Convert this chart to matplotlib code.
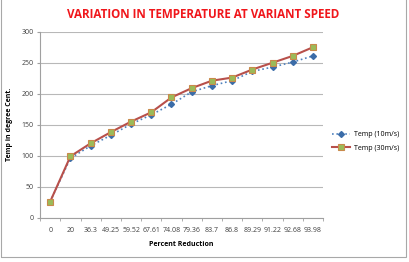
import matplotlib
matplotlib.use("Agg")
import matplotlib.pyplot as plt
from matplotlib.patches import Rectangle
import numpy as np

categories = ["0", "20", "36.3", "49.25", "59.52", "67.61", "74.08", "79.36",
              "83.7", "86.8", "89.29", "91.22", "92.68", "93.98"]
temp_10 = [26, 96, 116, 133, 151, 166, 183, 203, 213, 221, 236, 243, 251, 261]
temp_30 = [26, 99, 120, 138, 155, 170, 194, 209, 221, 226, 239, 250, 261, 275]

plt.rcParams["font.family"] = ["Open Sans", "DejaVu Sans"]

fig = plt.figure(figsize=(4.09, 2.62), dpi=100)
ax = fig.add_axes([0.098, 0.169, 0.692, 0.71])

x = np.arange(len(categories))
ax.plot(x, temp_10, color="#4F81BD", linestyle=":", linewidth=1.2,
        marker="D", markersize=3, markerfacecolor="#3B6CA8",
        markeredgecolor="#3B6CA8", label="Temp (10m/s)", zorder=3)
ax.plot(x, temp_30, color="#B8504B", linestyle="-", linewidth=1.5,
        marker="s", markersize=5, markerfacecolor="#9BBB59",
        markeredgecolor="#C98A4B", markeredgewidth=0.8,
        label="Temp (30m/s)", zorder=4)

ax.set_xlim(-0.5, len(categories) - 0.5)
ax.set_ylim(0, 300)
ax.set_yticks(range(0, 301, 50))
ax.set_xticks(x)
ax.set_xticklabels(categories)
ax.set_xticks(np.arange(-0.5, len(categories), 1), minor=True)
ax.tick_params(axis="x", which="major", length=0, labelsize=5, colors="#404040", pad=7)
ax.tick_params(axis="x", which="minor", length=2.5, color="#A0A0A0", direction="out")
ax.tick_params(axis="y", length=2.5, color="#A0A0A0", labelsize=5, labelcolor="#404040", pad=2)

ax.grid(axis="y", color="#B8B8B8", linewidth=0.8)
ax.set_axisbelow(True)
for side in ["top", "right"]:
    ax.spines[side].set_visible(False)
for side in ["left", "bottom"]:
    ax.spines[side].set_color("#A0A0A0")
    ax.spines[side].set_linewidth(0.8)

ax.set_xlabel("Percent Reduction", fontsize=5, fontweight="bold", labelpad=5)
ax.set_ylabel("Temp in degree Cent.", fontsize=5, fontweight="bold", labelpad=6)

fig.text(0.497, 0.945, "VARIATION IN TEMPERATURE AT VARIANT SPEED", color="#F0161B",
         fontsize=8.4, fontweight="bold", ha="center", va="center")

ax.legend(loc="center left", bbox_to_anchor=(1.01, 0.41), frameon=False,
          fontsize=5, handlelength=2.6, labelspacing=0.95, handletextpad=0.5)

fig.patches.append(Rectangle((0.002, 0.019), 0.991, 0.99, transform=fig.transFigure,
                             fill=False, edgecolor="#A8A8A8", linewidth=0.8))

fig.savefig("out.png", dpi=100)
